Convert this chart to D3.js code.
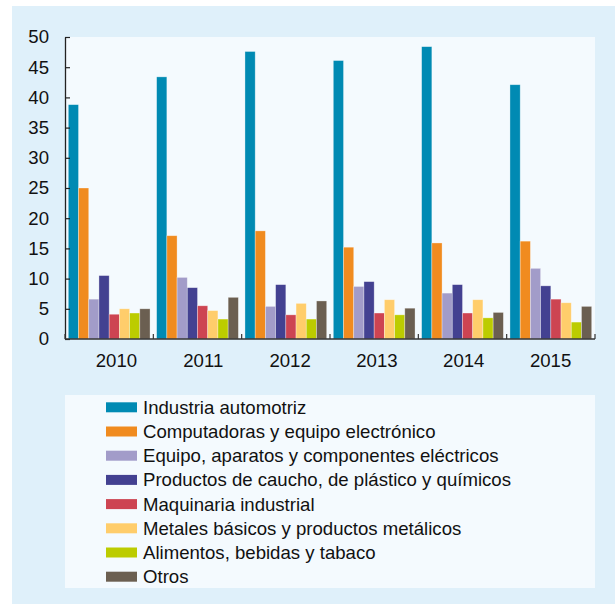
<!DOCTYPE html>
<html><head><meta charset="utf-8">
<script src="https://cdn.jsdelivr.net/npm/d3@7"></script>
<style>html,body{margin:0;padding:0;background:#fff;}svg{display:block;}</style>
</head><body>
<script>
const years = ["2010","2011","2012","2013","2014","2015"];
const seriesNames = [
  "Industria automotriz",
  "Computadoras y equipo electrónico",
  "Equipo, aparatos y componentes eléctricos",
  "Productos de caucho, de plástico y químicos",
  "Maquinaria industrial",
  "Metales básicos y productos metálicos",
  "Alimentos, bebidas y tabaco",
  "Otros"
];
const colors = ["#008ab3","#f08b1f","#a29cc9","#434191","#cd4452","#ffcd6b","#bccc00","#6b5f51"];
const automotriz   = [38.8, 43.4, 47.6, 46.1, 48.4, 42.1];
const computadoras = [25.0, 17.1, 17.9, 15.2, 15.9, 16.2];
const electricos   = [6.6, 10.2, 5.4, 8.7, 7.6, 11.7];
const caucho       = [10.5, 8.5, 9.0, 9.5, 9.0, 8.8];
const maquinaria   = [4.1, 5.5, 4.0, 4.3, 4.3, 6.6];
const metales      = [5.0, 4.7, 5.9, 6.5, 6.5, 6.0];
const alimentos    = [4.3, 3.3, 3.3, 4.0, 3.5, 2.8];
const otros        = [5.0, 6.9, 6.3, 5.1, 4.4, 5.4];
const yTicks = [0,5,10,15,20,25,30,35,40,45,50];

const values = [automotriz, computadoras, electricos, caucho, maquinaria, metales, alimentos, otros];

const W = 615, H = 604;
const svg = d3.select("body").append("svg").attr("width", W).attr("height", H);
const font = "'Liberation Sans', Arial, sans-serif";
const fs = 18.6;

svg.append("rect").attr("x", 12).attr("y", 6).attr("width", W - 12).attr("height", H - 6).attr("fill", "#dff0fa");

const pLeft = 65, pRight = 595, pTop = 37, pBottom = 339;
svg.append("rect").attr("x", pLeft).attr("y", pTop).attr("width", pRight - pLeft).attr("height", pBottom - pTop).attr("fill", "#f4fafe");

const x0 = d3.scaleBand().domain(years).range([pLeft, pRight]).padding(0);
const x1 = d3.scaleBand().domain(d3.range(seriesNames.length)).range([3.3, x0.bandwidth() - 3.3]).padding(0);
const y = d3.scaleLinear().domain([0, 50]).range([pBottom, pTop]);
const xLabel = d3.scaleBand().domain(years).range([73, 594]);

const groups = svg.append("g").selectAll("g").data(years).join("g")
  .attr("transform", d => `translate(${x0(d)},0)`);
groups.selectAll("rect").data((yr, yi) => values.map((s, si) => ({si, v: s[yi]}))).join("rect")
  .attr("x", d => x1(d.si))
  .attr("width", x1.bandwidth())
  .attr("y", d => y(d.v))
  .attr("height", d => pBottom - y(d.v))
  .attr("fill", d => colors[d.si])
  .attr("stroke", "rgba(255,255,255,0.45)")
  .attr("stroke-width", 0.7);

// Y axis
const yAxis = d3.axisLeft(y).tickValues(yTicks).tickSizeInner(-5).tickSizeOuter(0).tickPadding(16);
const gy = svg.append("g").attr("transform", `translate(${pLeft},0)`).call(yAxis);
gy.select(".domain").attr("stroke", "#222").attr("stroke-width", 1.3);
gy.selectAll(".tick line").attr("stroke", "#222").attr("stroke-width", 1.2);
gy.selectAll(".tick text").attr("font-family", font).attr("font-size", fs).attr("fill", "#111");

// X axis line
svg.append("line").attr("x1", pLeft).attr("x2", pRight).attr("y1", pBottom).attr("y2", pBottom)
  .attr("stroke", "#333").attr("stroke-width", 1.3);
const bounds = years.map(d => x0(d)).concat([x0(years[years.length-1]) + x0.bandwidth()]);
svg.append("g").selectAll("line").data(bounds).join("line")
  .attr("x1", d => d).attr("x2", d => d).attr("y1", pBottom).attr("y2", pBottom - 5)
  .attr("stroke", "#333").attr("stroke-width", 1.2);
const xAxis = d3.axisBottom(xLabel).tickSize(0).tickPadding(0);
const gx = svg.append("g").attr("transform", `translate(0,${pBottom})`).call(xAxis);
gx.select(".domain").remove();
gx.selectAll(".tick text").attr("font-family", font).attr("font-size", fs).attr("fill", "#111")
  .attr("dy", null).attr("y", 28);

// Legend
svg.append("rect").attr("x", 65).attr("y", 395).attr("width", 530).attr("height", 193).attr("fill", "#f4fafe");
const lg = svg.append("g").selectAll("g").data(seriesNames).join("g")
  .attr("transform", (d, i) => `translate(106,${407.3 + i * 24.2})`);
lg.append("rect").attr("x", 0).attr("y", -5).attr("width", 31).attr("height", 10).attr("fill", (d, i) => colors[i]);
lg.append("text").attr("x", 37).attr("y", 0).attr("dy", "0.35em").text(d => d)
  .attr("font-family", font).attr("font-size", fs).attr("fill", "#111");
</script>
</body></html>
